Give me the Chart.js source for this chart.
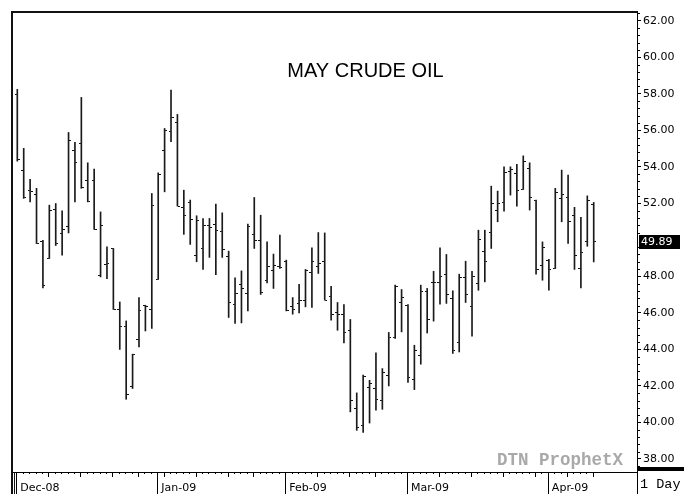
<!DOCTYPE html>
<html><head><meta charset="utf-8">
<style>html,body{margin:0;padding:0;background:#fff;}canvas{display:block;}</style>
<script src="https://cdn.jsdelivr.net/npm/chart.js@4/dist/chart.umd.min.js"></script>
</head><body>
<canvas id="c" width="684" height="494"></canvas>
<script>
const dates = [
'2008-12-01','2008-12-02','2008-12-03','2008-12-04','2008-12-05','2008-12-08','2008-12-09','2008-12-10','2008-12-11','2008-12-12',
'2008-12-15','2008-12-16','2008-12-17','2008-12-18','2008-12-19','2008-12-22','2008-12-23','2008-12-24','2008-12-26','2008-12-29',
'2008-12-30','2008-12-31',
'2009-01-02','2009-01-05','2009-01-06','2009-01-07','2009-01-08','2009-01-09','2009-01-12','2009-01-13','2009-01-14','2009-01-15',
'2009-01-16','2009-01-20','2009-01-21','2009-01-22','2009-01-23','2009-01-26','2009-01-27','2009-01-28','2009-01-29','2009-01-30',
'2009-02-02','2009-02-03','2009-02-04','2009-02-05','2009-02-06','2009-02-09','2009-02-10','2009-02-11','2009-02-12','2009-02-13',
'2009-02-17','2009-02-18','2009-02-19','2009-02-20','2009-02-23','2009-02-24','2009-02-25','2009-02-26','2009-02-27',
'2009-03-02','2009-03-03','2009-03-04','2009-03-05','2009-03-06','2009-03-09','2009-03-10','2009-03-11','2009-03-12','2009-03-13',
'2009-03-16','2009-03-17','2009-03-18','2009-03-19','2009-03-20','2009-03-23','2009-03-24','2009-03-25','2009-03-26','2009-03-27',
'2009-03-30','2009-03-31',
'2009-04-01','2009-04-02','2009-04-03','2009-04-06','2009-04-07','2009-04-08','2009-04-09','2009-04-13'
];
const opens = [
57.97,53.82,52.68,52.49,49.89,48.98,51.67,50.35,50.71,54.92,55.28,53.23,53.23,48.07,48.67,49.53,46.19,45.23,41.99,44.54,46.38,46.19,
47.83,54.92,55.92,56.41,51.75,52.03,49.16,49.53,50.77,50.84,50.48,49.07,46.48,47.56,47.06,50.31,49.95,47.79,48.34,48.52,
48.83,46.33,46.52,46.66,48.19,48.56,48.83,46.91,46.02,45.91,45.01,40.76,39.81,41.91,41.86,41.22,42.59,44.63,46.55,
46.42,42.35,43.68,47.15,47.67,47.67,48.12,46.79,44.38,47.94,46.37,47.61,49.34,50.41,51.59,52.05,53.76,53.64,52.76,53.91,52.14,48.58,
48.85,48.43,52.27,52.32,51.35,48.43,49.89,51.94
];
const highs = [
58.24,55.01,53.31,52.82,49.97,51.90,51.99,51.59,55.88,55.34,57.80,54.22,53.87,51.53,49.62,49.53,46.60,45.56,43.74,46.84,46.42,52.54,
53.67,56.10,58.20,56.87,52.72,52.18,51.32,51.17,51.17,51.96,51.48,49.38,47.92,48.30,50.86,52.32,51.35,49.89,49.22,50.26,
48.89,46.84,47.57,48.38,49.56,50.40,50.38,47.46,46.57,46.46,45.64,41.62,42.59,42.31,43.81,42.95,44.93,47.52,47.28,
46.46,44.23,47.52,47.34,48.28,49.56,49.20,47.21,48.12,48.83,48.28,50.53,50.53,52.94,52.67,54.00,54.00,54.13,54.60,54.22,52.18,49.89,
48.93,52.82,53.82,53.55,51.78,51.23,52.41,52.05
];
const lows = [
54.31,52.27,52.08,49.80,47.37,48.98,49.69,49.16,50.38,52.08,52.82,52.08,50.57,47.97,47.88,46.19,44.00,41.27,41.86,44.14,45.01,45.15,
47.83,52.63,55.37,51.85,50.30,49.75,48.80,48.38,49.04,48.10,49.04,45.75,45.42,45.45,46.11,49.53,47.01,47.64,47.34,48.43,
46.11,45.93,46.00,46.33,46.30,48.16,46.70,45.60,45.05,44.36,40.58,39.57,39.45,39.97,40.67,40.72,42.00,44.60,44.96,
42.19,41.80,43.19,44.90,45.55,46.48,46.52,43.78,43.86,46.57,44.72,47.24,47.70,49.53,50.99,51.57,52.45,51.85,52.76,51.63,48.12,47.79,
47.24,48.43,50.99,49.80,48.38,47.37,49.65,48.79
];
const closes = [
54.40,52.30,52.63,49.80,47.52,51.59,49.80,50.57,55.46,54.22,52.85,52.08,50.57,50.81,48.70,46.19,45.23,41.55,43.74,46.15,46.33,51.86,
53.58,55.97,56.68,51.85,51.35,51.12,51.04,50.77,50.66,50.53,49.49,46.55,47.06,47.34,50.75,49.95,47.12,48.52,48.61,48.49,
46.11,46.19,46.70,48.30,48.79,48.70,46.70,45.91,45.91,44.90,41.22,39.70,42.53,42.16,41.25,42.73,44.63,47.42,46.84,
42.44,43.92,47.15,45.64,47.67,48.01,47.03,43.96,47.92,47.01,48.01,50.02,48.83,51.99,51.99,53.69,53.86,52.68,54.27,52.30,48.38,49.58,
48.38,52.60,52.49,51.02,49.12,49.29,52.18,49.89
];
const yTickValues = [38,40,42,44,46,48,52,54,56,58,60,62];
const xTickLabels = ['Dec-08','Jan-09','Feb-09','Mar-09','Apr-09'];
const chartTitle = 'MAY CRUDE OIL';
const watermarkText = 'DTN ProphetX';
const periodText = '1 Day';

// month and week starts derived from the dates
const monthStarts = [];
const weekStarts = [];
dates.forEach((d, i) => {
  if (i === 0 || d.slice(0, 7) !== dates[i - 1].slice(0, 7)) monthStarts.push(i);
  if (i > 0) {
    const a = new Date(dates[i - 1] + 'T12:00:00Z').getUTCDay();
    const b = new Date(d + 'T12:00:00Z').getUTCDay();
    const gap = (new Date(d) - new Date(dates[i - 1])) / 86400000;
    if (b <= a || gap >= 7) weekStarts.push(i);
  }
});

const idx = dates.map((d, i) => i);
const rangeData = idx.map(i => ({x: i, y: [lows[i], highs[i]]}));
const openData = idx.map(i => ({x: i, y: opens[i]}));
const closeData = idx.map(i => ({x: i, y: closes[i]}));

function tickImg(side) {
  const c = document.createElement('canvas');
  c.width = 5; c.height = 1;
  const g = c.getContext('2d');
  g.fillStyle = '#111';
  if (side === 'L') g.fillRect(0, 0, 2, 1); else g.fillRect(3, 0, 2, 1);
  return c;
}
const openImg = tickImg('L');
const closeImg = tickImg('R');

const deco = {
  id: 'deco',
  afterDraw(chart) {
    const ctx = chart.ctx, xs = chart.scales.x, ys = chart.scales.y, ca = chart.chartArea;
    const W = chart.width, H = chart.height;
    ctx.save();
    // frame
    ctx.fillStyle = '#111';
    ctx.fillRect(11, 11, ca.right - 11, 2);
    ctx.fillRect(11, 11, 2, H - 11);
    ctx.fillRect(14, ca.bottom, 1, H - ca.bottom);
    ctx.fillStyle = '#000';
    ctx.fillRect(ca.right, 11, 1, H - 11);
    ctx.fillRect(ca.right, 467, W - ca.right, 4);
    // y minor ticks
    for (let k = Math.ceil(ys.min / 0.4); k * 0.4 <= ys.max; k++) {
      const v = k * 0.4;
      if (Math.abs(v / 2 - Math.round(v / 2)) < 1e-6) continue;
      const y = Math.round(ys.getPixelForValue(v));
      if (y > 466) continue;
      ctx.fillRect(ca.right + 1, y, 2, 1);
    }
    // x ticks
    idx.forEach(i => {
      const x = Math.round(xs.getPixelForValue(i)) - 1;
      let len = 2;
      if (weekStarts.includes(i)) len = 5;
      if (monthStarts.includes(i)) len = H - ca.bottom;
      ctx.fillRect(x, ca.bottom, 1, len);
    });
    // title
    ctx.fillStyle = '#000';
    ctx.font = '20px "Liberation Sans", Arial, sans-serif';
    ctx.textAlign = 'center';
    ctx.textBaseline = 'alphabetic';
    ctx.fillText(chartTitle, 365.5, 77);
    // watermark
    ctx.fillStyle = '#a9a9a9';
    ctx.font = 'bold 17.5px "Liberation Mono", monospace';
    ctx.textAlign = 'left';
    ctx.fillText(watermarkText, 497, 465);
    // period label
    ctx.fillStyle = '#000';
    ctx.font = '13.5px "Liberation Mono", monospace';
    ctx.fillText(periodText, 640, 488);
    // last price box
    const last = closes[closes.length - 1];
    const yl = Math.round(ys.getPixelForValue(last));
    ctx.fillStyle = '#000';
    ctx.fillRect(ca.right + 2, yl - 7, 41, 14);
    ctx.fillStyle = '#fff';
    ctx.font = '11px "DejaVu Sans", sans-serif';
    ctx.textBaseline = 'middle';
    ctx.fillText(last.toFixed(2), ca.right + 4, yl + 0.5);
    ctx.restore();
  }
};

new Chart(document.getElementById('c'), {
  type: 'bar',
  data: {
    datasets: [
      {type: 'bar', data: rangeData, backgroundColor: '#1a1a1a', barThickness: 1, borderWidth: 0, order: 3},
      {type: 'line', data: openData, showLine: false, pointStyle: openImg, pointRadius: 2, order: 1},
      {type: 'line', data: closeData, showLine: false, pointStyle: closeImg, pointRadius: 2, order: 2}
    ]
  },
  options: {
    responsive: false,
    animation: false,
    devicePixelRatio: 1,
    events: [],
    layout: {padding: {left: 12, top: 12, right: 0, bottom: 0}},
    plugins: {legend: {display: false}, tooltip: {enabled: false}},
    scales: {
      x: {
        type: 'linear',
        position: 'bottom',
        min: -0.828,
        max: 96.76,
        offset: false,
        grid: {display: false, drawTicks: false, drawOnChartArea: false, offset: false},
        border: {display: true, color: '#000', width: 1},
        afterBuildTicks: s => { s.ticks = monthStarts.map(v => ({value: v})); },
        afterFit: s => { s.height = 22; },
        ticks: {
          align: 'start',
          labelOffset: 3,
          padding: 10,
          maxRotation: 0,
          autoSkip: false,
          color: '#000',
          font: {family: '"DejaVu Sans", sans-serif', size: 11},
          callback: (v, i) => xTickLabels[i]
        }
      },
      y: {
        type: 'linear',
        position: 'right',
        min: 37.288,
        max: 62.477,
        grid: {drawOnChartArea: false, drawTicks: true, tickLength: 4, tickColor: '#000', tickWidth: 1},
        border: {display: true, color: '#000', width: 1},
        afterBuildTicks: s => { s.ticks = yTickValues.map(v => ({value: v})); },
        afterFit: s => { s.width = 47; },
        ticks: {
          padding: 2,
          color: '#000',
          autoSkip: false,
          font: {family: '"DejaVu Sans", sans-serif', size: 11},
          callback: v => Number(v).toFixed(2)
        }
      }
    }
  },
  plugins: [deco]
});
</script>
</body></html>
